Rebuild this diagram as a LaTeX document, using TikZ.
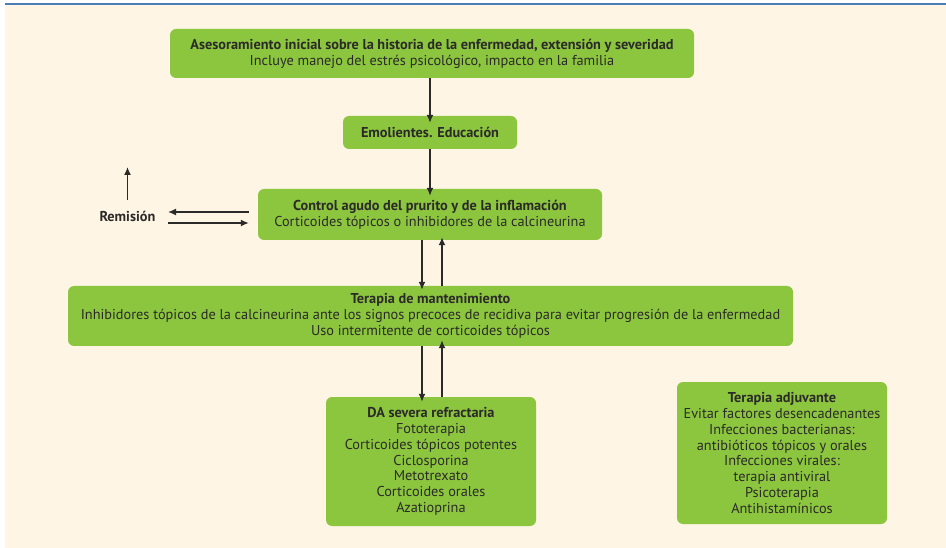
\documentclass[tikz,border=0pt]{standalone}
\usepackage{fontspec}
\setmainfont{PT Sans}
\usetikzlibrary{arrows.meta}
\definecolor{bgcream}{HTML}{FEF5E4}
\definecolor{boxgreen}{HTML}{8CC63F}
\definecolor{txtdark}{HTML}{2B2A29}
\definecolor{topblue}{HTML}{4A7DB5}
\begin{document}
\begin{tikzpicture}[x=1pt,y=-1pt,
  gbox/.style={fill=boxgreen, draw=none, rounded corners=6pt, text=txtdark, align=center,
     font=\fontsize{14.3}{15.8}\selectfont, inner sep=0pt},
  arr/.style={draw=txtdark, line width=1.4pt, -{Latex[length=8pt,width=7pt]}}
]
\useasboundingbox (0,0) rectangle (946,548);
\fill[white] (0,0) rectangle (946,548);
\fill[bgcream] (5,5) rectangle (946,548);
\fill[topblue] (5,3) rectangle (946,5.5);

\node[gbox, minimum width=524pt, minimum height=49pt] (b1) at (432,53.5)
  {\textbf{Asesoramiento inicial sobre la historia de la enfermedad, extensión y severidad}\\
   Incluye manejo del estrés psicológico, impacto en la familia};
\node[gbox, minimum width=174pt, minimum height=33pt] (b2) at (430,132.5)
  {\textbf{Emolientes. Educación}};
\node[gbox, minimum width=344pt, minimum height=51pt] (b3) at (430,214.5)
  {\textbf{Control agudo del prurito y de la inflamación}\\
   Corticoides tópicos o inhibidores de la calcineurina};
\node[gbox, minimum width=725pt, minimum height=60pt] (b4) at (430.5,316)
  {\textbf{Terapia de mantenimiento}\\
   Inhibidores tópicos de la calcineurina ante los signos precoces de recidiva para evitar progresión de la enfermedad\\
   Uso intermitente de corticoides tópicos};
\node[gbox, minimum width=210pt, minimum height=129pt] (b5) at (431,461.5)
  {\textbf{DA severa refractaria}\\
   Fototerapia\\
   Corticoides tópicos potentes\\
   Ciclosporina\\
   Metotrexato\\
   Corticoides orales\\
   Azatioprina};
\node[gbox, minimum width=210pt, minimum height=142pt] (b6) at (782,453)
  {\textbf{Terapia adjuvante}\\
   Evitar factores desencadenantes\\
   Infecciones bacterianas:\\
   antibióticos tópicos y orales\\
   Infecciones virales:\\
   terapia antiviral\\
   Psicoterapia\\
   Antihistamínicos};
\node[text=txtdark, font=\fontsize{14.3}{15}\selectfont\bfseries, inner sep=0pt] (rem) at (127.5,216) {Remisión};

\coordinate (up) at (127.5,167);
\draw[arr] (127.5,200) -- (up);
\draw[arr] ([xshift=-9pt]b3.west |- 0,212) -- (168,212);
\draw[arr] (168,223) -- ([xshift=-9pt]b3.west |- 0,223);

\draw[arr] (b1.south -| 430,0) -- ([yshift=-7pt]b2.north -| 430,0);
\draw[arr] (b2.south -| 430,0) -- ([yshift=-7pt]b3.north -| 430,0);
\draw[arr] (b3.south -| 422,0) -- ([yshift=-4pt]b4.north -| 422,0);
\draw[arr] (b4.north -| 442,0) -- ([yshift=3pt]b3.south -| 442,0);
\draw[arr] (b4.south -| 422,0) -- ([yshift=-5pt]b5.north -| 422,0);
\draw[arr] (b5.north -| 442,0) -- ([yshift=6pt]b4.south -| 442,0);
\end{tikzpicture}
\end{document}
